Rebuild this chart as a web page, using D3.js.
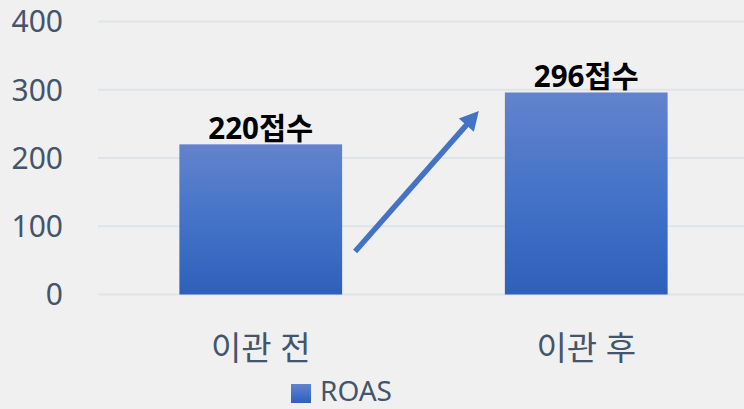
<!DOCTYPE html>
<html>
<head>
<meta charset="utf-8">
<script src="https://cdn.jsdelivr.net/npm/d3@7"></script>
<style>
html,body{margin:0;padding:0;background:#f0f0f0;}
svg{display:block;}
</style>
</head>
<body>
<svg id="chart" width="744" height="409"></svg>
<script>
const categories = ["이관 전", "이관 후"];
const values = [220, 296];
const valueLabels = ["220접수", "296접수"];
const yTicks = [0, 100, 200, 300, 400];
const seriesName = "ROAS";

const W = 744, H = 409;
const svg = d3.select("#chart");
const font = "'Noto Sans', 'Noto Sans CJK KR', sans-serif";
const textColor = "#44546a";

const defs = svg.append("defs");
const grad = defs.append("linearGradient").attr("id","barGrad")
  .attr("x1",0).attr("y1",0).attr("x2",0).attr("y2",1);
grad.append("stop").attr("offset","0%").attr("stop-color","#6383cc");
grad.append("stop").attr("offset","50%").attr("stop-color","#4473c8");
grad.append("stop").attr("offset","100%").attr("stop-color","#2f5fba");

svg.append("rect").attr("width",W).attr("height",H).attr("fill","#f0f0f0");

const x = d3.scaleBand().domain(categories).range([98, 749]).paddingInner(0.5).paddingOuter(0.25);
const y = d3.scaleLinear().domain([0, 400]).range([294.5, 21.5]);

// gridlines
svg.append("g").selectAll("line").data(yTicks).join("line")
  .attr("x1", 98).attr("x2", W)
  .attr("y1", d => y(d)).attr("y2", d => y(d))
  .attr("stroke", "#dfe3ea").attr("stroke-width", 2);

// y tick labels
svg.append("g").selectAll("text").data(yTicks).join("text")
  .attr("x", 63).attr("y", d => y(d)).attr("dy", "0.36em")
  .attr("text-anchor", "end")
  .attr("font-family", font).attr("font-size", 30)
  .attr("fill", textColor).text(d => d);

// bars
svg.append("g").selectAll("rect").data(values).join("rect")
  .attr("x", (d,i) => x(categories[i]))
  .attr("width", x.bandwidth())
  .attr("y", d => y(d))
  .attr("height", d => y(0) - y(d))
  .attr("fill", "url(#barGrad)");

// value labels
svg.append("g").selectAll("text").data(values).join("text")
  .attr("x", (d,i) => x(categories[i]) + x.bandwidth()/2)
  .attr("y", d => y(d) - 5)
  .attr("text-anchor", "middle")
  .attr("font-family", font).attr("font-size", 29.5).attr("font-weight", "bold")
  .attr("fill", "#000").text((d,i) => valueLabels[i]);

// x category labels
svg.append("g").selectAll("text").data(categories).join("text")
  .attr("x", d => x(d) + x.bandwidth()/2)
  .attr("y", 360)
  .attr("text-anchor", "middle")
  .attr("font-family", font).attr("font-size", 33)
  .attr("fill", textColor).text(d => d);

// arrow annotation
const ax1 = x(categories[0]) + x.bandwidth() + 13, ay1 = y(63);
const ax2 = x(categories[1]) - 26, ay2 = y(269);
const ang = Math.atan2(ay2 - ay1, ax2 - ax1);
const headLen = 19, headW = 10;
const bx = ax2 - headLen*Math.cos(ang), by = ay2 - headLen*Math.sin(ang);
svg.append("line").attr("x1", ax1).attr("y1", ay1).attr("x2", bx + 2*Math.cos(ang)).attr("y2", by + 2*Math.sin(ang))
  .attr("stroke", "#4472c4").attr("stroke-width", 5.5);
const px = -Math.sin(ang), py = Math.cos(ang);
svg.append("polygon")
  .attr("points", [[ax2, ay2],[bx + px*headW, by + py*headW],[bx - px*headW, by - py*headW]].map(p => p.join(",")).join(" "))
  .attr("fill", "#4472c4");

// legend
const lg = svg.append("g");
lg.append("rect").attr("x", 291).attr("y", 384).attr("width", 20).attr("height", 19).attr("fill", "url(#barGrad)");
lg.append("text").attr("x", 320).attr("y", 401)
  .attr("font-family", font).attr("font-size", 28)
  .attr("fill", textColor).text(seriesName);
</script>
</body>
</html>
